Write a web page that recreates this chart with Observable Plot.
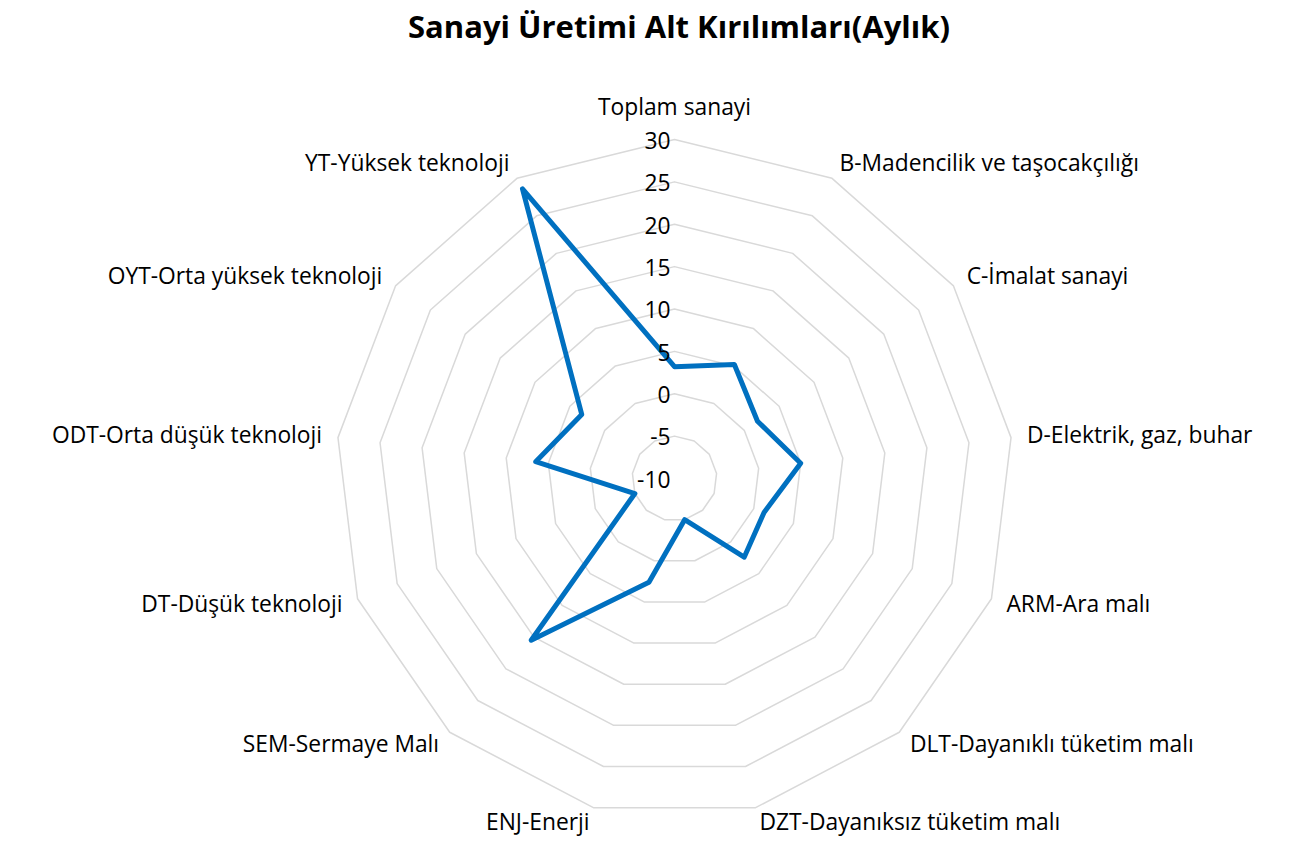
<!DOCTYPE html>
<html><head><meta charset="utf-8">
<script src="https://cdn.jsdelivr.net/npm/d3@7"></script>
<script src="https://cdn.jsdelivr.net/npm/@observablehq/plot@0.6"></script>
<style>
body{margin:0;background:#fff;font-family:"Open Sans",Lato,sans-serif;}
#title{height:60px;box-sizing:border-box;padding-top:7px;padding-left:57px;text-align:center;font-weight:bold;font-size:31px;line-height:38px;color:#000;}
#chart svg{display:block;}
</style></head><body>
<div id="title">Sanayi Üretimi Alt Kırılımları(Aylık)</div>
<div id="chart"></div>
<script>
const categories = [
  "Toplam sanayi",
  "B-Madencilik ve taşocakçılığı",
  "C-İmalat sanayi",
  "D-Elektrik, gaz, buhar",
  "ARM-Ara malı",
  "DLT-Dayanıklı tüketim malı",
  "DZT-Dayanıksız tüketim malı",
  "ENJ-Enerji",
  "SEM-Sermaye Malı",
  "DT-Düşük teknoloji",
  "ODT-Orta düşük teknoloji",
  "OYT-Orta yüksek teknoloji",
  "YT-Yüksek teknoloji"
];
const values = [3.2, 5.2, 1.9, 5.0, 1.3, 2.4, -5.0, 2.6, 15.5, -5.0, 6.5, 3.3, 28.6];
const ringValues = [-5, 0, 5, 10, 15, 20, 25, 30];
const tickValues = [30, 25, 20, 15, 10, 5, 0, -5, -10];
const tickLabels = ["30", "25", "20", "15", "10", "5", "0", "-5", "-10"];

const n = categories.length;
const R = 339;
const r = d3.scaleLinear().domain([-10, 30]).range([0, R]);
const ang = i => i * 2 * Math.PI / n;

const grid = ringValues.flatMap(v => categories.map((c, i) => ({ring: v, x: r(v) * Math.sin(ang(i)), y: r(v) * Math.cos(ang(i))})));
const series = values.map((v, i) => ({cat: categories[i], x: r(v) * Math.sin(ang(i)), y: r(v) * Math.cos(ang(i))}));
const labels = categories.map((c, i) => {
  const s = Math.sin(ang(i)), co = Math.cos(ang(i));
  return {text: c, x: (R + 16) * s, y: (R + 16) * co + (Math.abs(s) < 0.01 ? 16 : 0), side: Math.abs(s) < 0.01 ? "middle" : (s > 0 ? "start" : "end")};
});
const ticks = tickValues.map((v, i) => ({text: tickLabels[i], y: r(v) - 2}));

const fs = 22.8;
const chart = Plot.plot({
  width: 1301, height: 782, margin: 0,
  style: {fontFamily: "'Open Sans', Lato, sans-serif", background: "#fff"},
  x: {domain: [-674, 627], range: [0, 1301], axis: null},
  y: {domain: [-364, 418], range: [782, 0], axis: null},
  marks: [
    Plot.line(grid, {x: "x", y: "y", z: "ring", curve: "linear-closed", stroke: "#d9d9d9", strokeWidth: 1.5}),
    Plot.line(series, {x: "x", y: "y", curve: "linear-closed", stroke: "#0070C0", strokeWidth: 5, strokeLinejoin: "round"}),
    Plot.text(ticks, {x: () => -4, y: "y", text: "text", textAnchor: "end", fontSize: fs, fill: "#000"}),
    Plot.text(labels.filter(d => d.side === "middle"), {x: "x", y: "y", text: "text", textAnchor: "middle", fontSize: fs, fill: "#000"}),
    Plot.text(labels.filter(d => d.side === "start"), {x: "x", y: "y", text: "text", textAnchor: "start", fontSize: fs, fill: "#000"}),
    Plot.text(labels.filter(d => d.side === "end"), {x: "x", y: "y", text: "text", textAnchor: "end", fontSize: fs, fill: "#000"})
  ]
});
document.getElementById("chart").appendChild(chart);
</script>
</body></html>
